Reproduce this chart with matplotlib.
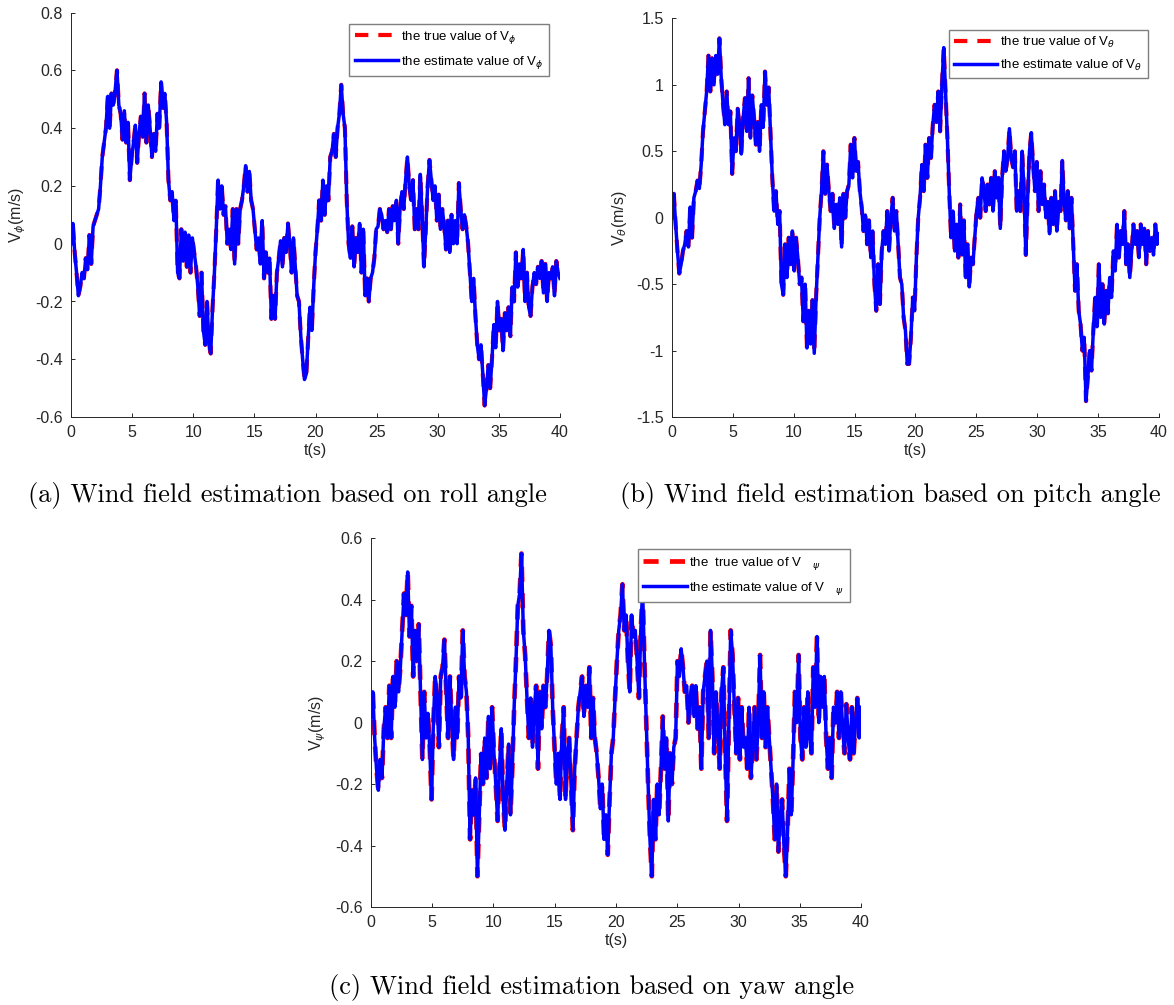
import matplotlib.pyplot as plt
import numpy as np
from matplotlib.ticker import FormatStrFormatter

plt.rcParams['font.family'] = ['Liberation Sans', 'DejaVu Sans']
plt.rcParams['axes.unicode_minus'] = False

roll_vals = [
    0.0, 0.07, -0.03, -0.1, -0.18, -0.15, -0.1, -0.12, -0.05, -0.09, 0.03, -0.07, 0.06,
    0.08, 0.1, 0.12, 0.2, 0.3, 0.35, 0.4, 0.51, 0.4, 0.52, 0.48, 0.53, 0.6,
    0.48, 0.45, 0.36, 0.46, 0.35, 0.42, 0.22, 0.3, 0.35, 0.41, 0.28, 0.38, 0.44, 0.37,
    0.52, 0.35, 0.48, 0.4, 0.3, 0.38, 0.32, 0.45, 0.4, 0.56, 0.47, 0.52, 0.42, 0.22,
    0.15, 0.18, 0.08, 0.15, -0.1, -0.12, 0.05, -0.06, 0.04, -0.08, 0.03, -0.1, 0.02,
    -0.03, -0.08, -0.15, -0.25, -0.1, -0.3, -0.35, -0.2, -0.35, -0.38, -0.22, -0.1, 0.05,
    0.22, 0.12, 0.2, 0.1, 0.13, 0.0, 0.05, -0.02, 0.12, -0.07, 0.12, 0.0, 0.12, 0.15,
    0.2, 0.27, 0.18, 0.25, 0.15, 0.12, 0.05, -0.02, 0.02, -0.07, 0.08, -0.12, -0.03,
    -0.1, -0.05, -0.26, -0.18, -0.26, -0.1, -0.05, 0.01, -0.08, 0.02, -0.03, 0.07, 0.0,
    -0.1, 0.02, -0.08, -0.18, -0.2, -0.32, -0.4, -0.47, -0.45, -0.33, -0.22, -0.3,
    -0.15, -0.03, 0.05, 0.15, 0.08, 0.22, 0.1, 0.2, 0.15, 0.3, 0.32, 0.38, 0.3, 0.4,
    0.45, 0.55, 0.45, 0.4, 0.15, 0.0, -0.05, 0.06, -0.08, 0.02, -0.03, 0.07, -0.1,
    0.05, -0.18, -0.12, -0.2, -0.12, -0.1, -0.05, 0.05, 0.06, 0.12, 0.1, 0.05, 0.08,
    0.04, 0.12, 0.05, 0.13, 0.08, 0.15, 0.0, 0.12, 0.18, 0.12, 0.22, 0.3, 0.2, 0.15,
    0.22, 0.05, 0.12, 0.05, 0.24, 0.1, -0.08, 0.05, 0.2, 0.29, 0.22, 0.15, 0.2, 0.08,
    0.17, 0.05, 0.12, 0.06, -0.02, 0.08, -0.03, 0.1, 0.0, 0.08, 0.0, 0.21, 0.12, 0.05,
    0.1, 0.06, 0.0, -0.1, -0.2, -0.12, -0.25, -0.35, -0.4, -0.35, -0.45, -0.56, -0.5,
    -0.42, -0.5, -0.4, -0.28, -0.36, -0.2, -0.3, -0.26, -0.37, -0.24, -0.3, -0.22,
    -0.32, -0.15, -0.2, -0.03, -0.15, -0.07, -0.12, -0.02, -0.2, -0.1, -0.22, -0.25,
    -0.15, -0.1, -0.14, -0.08, -0.12, -0.06, -0.17, -0.07, -0.2, -0.1, -0.12, -0.08,
    -0.18, -0.06, -0.1, -0.12,
]

pitch_vals = [
    0.0, 0.18, -0.05, -0.25, -0.42, -0.35, -0.25, -0.2, -0.1, -0.22, 0.08, -0.15, 0.15,
    0.2, 0.28, 0.22, 0.4, 0.65, 0.8, 0.95, 1.22, 0.95, 1.2, 1.0, 1.22, 1.08, 1.35,
    1.05, 0.85, 0.7, 0.95, 0.7, 0.8, 0.33, 0.6, 0.5, 0.82, 0.7, 0.48, 0.75, 0.9, 0.65,
    1.05, 0.6, 0.92, 0.75, 0.55, 0.72, 0.5, 0.85, 0.68, 1.1, 0.85, 0.98, 0.65, 0.3,
    0.05, 0.2, -0.05, 0.05, -0.5, -0.58, -0.2, -0.45, -0.15, -0.35, -0.1, -0.4, -0.15,
    -0.3, -0.5, -0.45, -0.78, -0.5, -0.98, -0.7, -0.95, -0.62, -1.02, -0.6, -0.3, 0.0,
    0.2, 0.5, 0.18, 0.4, 0.2, 0.05, 0.18, -0.08, 0.1, -0.05, 0.15, -0.22, 0.18, 0.0,
    0.2, 0.25, 0.55, 0.3, 0.6, 0.35, 0.42, 0.2, 0.08, -0.1, 0.02, -0.2, -0.02, -0.3,
    -0.1, -0.5, -0.7, -0.35, -0.65, -0.25, -0.1, -0.2, 0.05, -0.25, 0.0, 0.15, -0.1,
    0.05, -0.2, -0.45, -0.5, -0.75, -0.85, -1.1, -1.1, -0.9, -0.6, -0.7, -0.3, 0.0,
    0.15, 0.4, 0.2, 0.55, 0.3, 0.6, 0.45, 0.7, 0.85, 0.72, 0.95, 0.65, 1.0, 1.28, 0.95,
    0.6, 0.2, -0.15, 0.05, -0.25, -0.05, -0.3, 0.1, -0.28, -0.02, -0.45, -0.2, -0.52,
    -0.3, -0.35, -0.15, 0.05, 0.15, 0.0, 0.3, 0.22, 0.05, 0.25, 0.1, 0.3, 0.05, 0.35,
    0.15, 0.3, -0.08, 0.3, 0.5, 0.35, 0.45, 0.67, 0.45, 0.38, 0.5, 0.05, 0.2, 0.05,
    0.5, 0.2, -0.28, 0.15, 0.5, 0.64, 0.4, 0.2, 0.42, 0.05, 0.35, 0.1, 0.25, 0.0, 0.12,
    -0.12, 0.15, -0.05, 0.2, -0.1, 0.12, 0.05, 0.43, 0.1, -0.02, 0.2, -0.08, 0.15,
    -0.2, -0.55, -0.35, -0.7, -0.8, -1.0, -0.9, -1.38, -1.2, -1.0, -1.15, -0.85, -0.6,
    -0.82, -0.35, -0.75, -0.5, -0.8, -0.55, -0.72, -0.45, -0.6, -0.25, -0.4, -0.05,
    -0.3, -0.1, -0.2, 0.05, -0.35, -0.2, -0.45, -0.25, -0.05, -0.2, -0.1, -0.3, -0.05,
    -0.2, -0.08, -0.35, -0.1, -0.25, -0.15, -0.28, -0.05, -0.2, -0.12,
]

yaw_vals = [
    0.02, 0.1, -0.05, -0.15, -0.22, -0.12, -0.18, -0.02, 0.05, -0.05, 0.12, -0.05,
    0.15, 0.05, 0.2, 0.1, 0.18, 0.3, 0.42, 0.35, 0.49, 0.28, 0.38, 0.15, 0.3, 0.2,
    0.32, 0.1, -0.12, 0.1, -0.05, 0.03, -0.08, -0.25, 0.0, 0.15, 0.08, -0.08, 0.15,
    0.18, 0.27, 0.1, -0.05, 0.15, 0.0, -0.12, 0.05, -0.05, 0.15, 0.08, 0.3, 0.15, 0.1,
    -0.05, -0.38, -0.22, -0.3, -0.18, -0.5, -0.3, -0.1, -0.2, -0.05, -0.18, 0.02,
    -0.15, 0.05, -0.1, -0.2, -0.32, -0.15, -0.02, -0.25, -0.35, -0.2, -0.07, -0.3,
    -0.15, 0.05, 0.2, 0.38, 0.42, 0.55, 0.3, 0.22, 0.08, -0.05, 0.08, -0.08, 0.05,
    0.12, -0.15, 0.1, -0.02, 0.12, 0.05, 0.15, 0.3, 0.25, 0.05, -0.08, -0.2, -0.1,
    -0.25, -0.05, 0.05, -0.25, -0.1, -0.05, -0.2, -0.35, -0.15, -0.05, 0.05, 0.1,
    0.15, 0.02, 0.12, 0.05, 0.18, -0.05, 0.08, -0.05, -0.1, -0.18, -0.28, -0.2,
    -0.38, -0.3, -0.43, -0.25, -0.1, -0.05, 0.08, 0.2, 0.3, 0.35, 0.45, 0.3, 0.35,
    0.2, 0.1, 0.35, 0.28, 0.3, 0.2, 0.08, 0.3, 0.43, 0.2, 0.0, -0.2, -0.38, -0.5,
    -0.25, -0.38, -0.2, -0.3, -0.15, 0.02, -0.15, -0.05, -0.32, -0.1, -0.2, -0.08,
    -0.05, 0.2, 0.15, 0.24, 0.18, 0.1, 0.12, 0.0, 0.08, 0.12, 0.02, 0.12, -0.02, 0.05,
    -0.15, 0.1, 0.15, 0.2, -0.05, 0.3, 0.15, -0.1, 0.1, -0.02, -0.15, 0.1, 0.18, -0.1,
    -0.32, 0.0, 0.3, 0.22, 0.05, -0.1, 0.08, -0.12, 0.05, -0.08, -0.05, -0.15, 0.05,
    -0.18, -0.08, 0.05, -0.12, 0.0, 0.22, -0.05, 0.1, -0.08, 0.05, -0.05, -0.15,
    -0.25, -0.38, -0.2, -0.42, -0.3, -0.25, -0.4, -0.5, -0.35, -0.15, -0.3, -0.12,
    0.1, 0.0, 0.22, -0.05, -0.12, 0.05, -0.08, 0.1, -0.05, -0.1, 0.18, 0.05, 0.28,
    0.0, 0.15, 0.05, 0.15, -0.05, -0.15, -0.05, -0.18, 0.05, 0.0, 0.1, -0.05, 0.1,
    -0.02, -0.1, 0.06, -0.05, -0.12, 0.05, -0.1, 0.0, 0.08, -0.05, 0.05,
]

panels = [
    # (values, axes rect, y limits, y tick step, greek symbol, legend gap, caption)
    (roll_vals, [0.0605, 0.585, 0.4165, 0.4025], (-0.6, 0.8), 0.2, r'\phi', '',
     '(a) Wind field estimation based on roll angle'),
    (pitch_vals, [0.5724, 0.585, 0.4148, 0.3967], (-1.5, 1.5), 0.5, r'\theta', '',
     '(b) Wind field estimation based on pitch angle'),
    (yaw_vals, [0.316, 0.0975, 0.4174, 0.367], (-0.6, 0.6), 0.2, r'\psi', r'\ \ \ \ ',
     '(c) Wind field estimation based on yaw angle'),
]
caption_pos = [(0.245, 0.507), (0.758, 0.507), (0.504, 0.017)]

fig = plt.figure(figsize=(11.74, 10.05), dpi=100)
ink = '#262626'

for (vals, rect, ylim, ystep, sym, gap, caption), cpos in zip(panels, caption_pos):
    ax = fig.add_axes(rect)
    t = np.linspace(0, 40, len(vals))
    v = np.array(vals)
    true_lbl = (r'the  true value of V$_{%s%s}$' if gap else r'the true value of V$_{%s%s}$') % (gap, sym)
    est_lbl = r'the estimate value of V$_{%s%s}$' % (gap, sym)
    red_lw = 3.4 if gap else 3.0
    ax.plot(t, v, color='red', lw=red_lw, dashes=(3.2, 2.4), label=true_lbl)
    ax.plot(t, v, color='blue', lw=2.5, label=est_lbl)

    ax.set_xlim(0, 40)
    ax.set_ylim(*ylim)
    ax.set_xticks(np.arange(0, 41, 5))
    ax.set_yticks(np.round(np.arange(ylim[0], ylim[1] + 1e-9, ystep), 2))
    ax.yaxis.set_major_formatter(FormatStrFormatter('%g'))
    for s in ('top', 'right'):
        ax.spines[s].set_visible(False)
    for s in ('left', 'bottom'):
        ax.spines[s].set_color(ink)
        ax.spines[s].set_linewidth(0.7)
    ax.tick_params(direction='in', length=3, width=0.7, colors=ink, labelsize=11.5, pad=6)
    ax.set_xlabel('t(s)', fontsize=11.5, color=ink, labelpad=2)
    ax.set_ylabel(r'V$_{%s}$(m/s)' % sym, fontsize=11.5, color=ink, labelpad=5)

    leg = ax.legend(loc='upper right', fontsize=9.5, handlelength=3.3, handletextpad=0.2,
                    borderaxespad=0.85, labelspacing=0.6, borderpad=0.4, fancybox=False,
                    framealpha=1)
    leg.get_frame().set_edgecolor('#7f7f7f')
    leg.get_frame().set_linewidth(1.0)

    fig.text(cpos[0], cpos[1], caption, ha='center', va='center',
             fontsize=19, fontfamily='cmr10')

fig.savefig('out.png', dpi=100)
